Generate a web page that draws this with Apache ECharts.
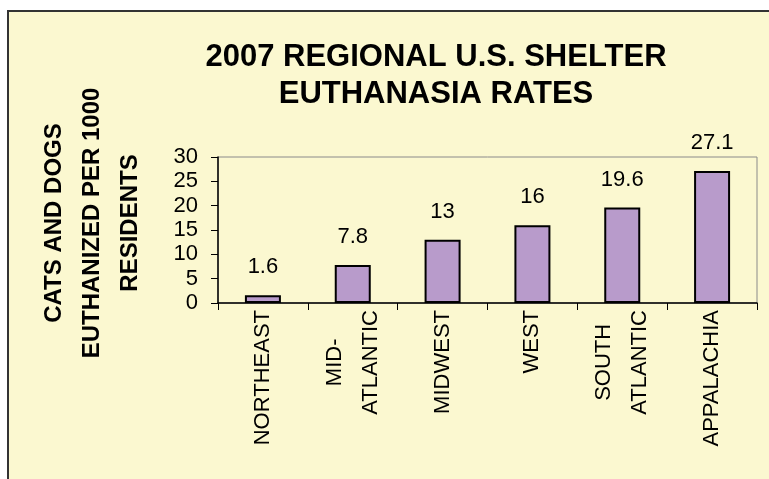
<!DOCTYPE html>
<html>
<head>
<meta charset="utf-8">
<script src="https://cdn.jsdelivr.net/npm/echarts@6/dist/echarts.min.js"></script>
<style>
html,body{margin:0;padding:0;background:#fff;}
#chart{width:769px;height:479px;}
</style>
</head>
<body>
<div id="chart"></div>
<script>
// regions and rates
const regions=['NORTHEAST','MID-\nATLANTIC','MIDWEST','WEST','SOUTH\nATLANTIC','APPALACHIA'];
const rates=[1.6,7.8,13,16,19.6,27.1];
const yTicks=[0,5,10,15,20,25,30];

const chart=echarts.init(document.getElementById('chart'));
const font='"Liberation Sans", Arial, sans-serif';

chart.setOption({
    backgroundColor:'#fff',
    animation:false,
    graphic:[{
        type:'rect',z:-100,silent:true,
        shape:{x:8,y:11,width:800,height:520},
        style:{fill:'#FBF8D0',stroke:'#333',lineWidth:2}
    }],
    title:{
        text:'2007 REGIONAL U.S. SHELTER\nEUTHANASIA RATES',
        left:431,top:34,textAlign:'center',
        textStyle:{fontFamily:font,fontWeight:'bold',fontSize:31,lineHeight:37,color:'#000'}
    },
    grid:{left:218,top:157,right:12,bottom:176,show:true,borderColor:'#8a8a8a',borderWidth:1,backgroundColor:'transparent'},
    xAxis:{
        type:'category',data:regions,
        axisLine:{lineStyle:{color:'#000',width:1.5}},
        axisTick:{show:true,length:7,lineStyle:{color:'#000'}},
        axisLabel:{
            rotate:90,margin:7,interval:0,color:'#000',fontFamily:font,fontSize:22,lineHeight:36,
            formatter:v=>v.split('\n').map(s=>'{c|'+s+'}').join('\n'),
            rich:{c:{align:'center',fontFamily:font,fontSize:22,lineHeight:36,color:'#000'}}
        }
    },
    yAxis:{
        type:'value',min:yTicks[0],max:yTicks[yTicks.length-1],interval:5,
        name:'CATS AND DOGS\nEUTHANIZED PER 1000\nRESIDENTS',
        nameLocation:'middle',nameRotate:90,nameGap:69,
        nameTextStyle:{fontFamily:font,fontWeight:'bold',fontSize:24,lineHeight:38,color:'#000',align:'center',padding:[0,0,0,14]},
        axisLine:{show:true,lineStyle:{color:'#000',width:1.5}},
        axisTick:{show:true,length:7,lineStyle:{color:'#000'}},
        axisLabel:{margin:20,color:'#000',fontFamily:font,fontSize:22},
        splitLine:{show:false}
    },
    series:[{
        type:'bar',data:rates,barWidth:36,
        itemStyle:{color:'#B89BCB',borderColor:'#000',borderWidth:2},
        label:{show:true,position:'top',distance:17,color:'#000',fontFamily:font,fontSize:22}
    }]
});
</script>
</body>
</html>
